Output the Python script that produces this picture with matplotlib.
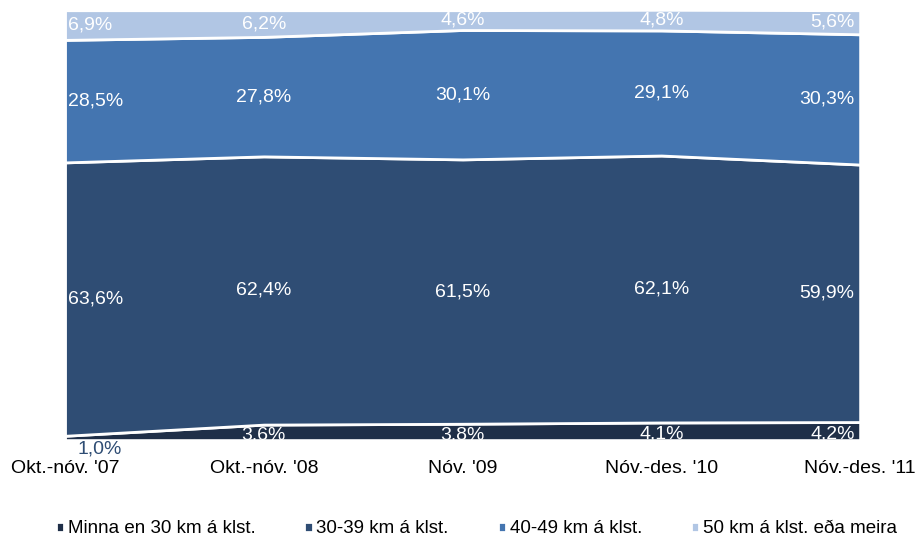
import matplotlib
matplotlib.use("Agg")
import matplotlib.pyplot as plt
import numpy as np

categories = ["Okt.-nóv. '07", "Okt.-nóv. '08", "Nóv. '09", "Nóv.-des. '10", "Nóv.-des. '11"]
series_names = ["Minna en 30 km á klst.", "30-39 km á klst.", "40-49 km á klst.", "50 km á klst. eða meira"]
s_lt30 = [1.0, 3.6, 3.8, 4.1, 4.2]
s_30_39 = [63.6, 62.4, 61.5, 62.1, 59.9]
s_40_49 = [28.5, 27.8, 30.1, 29.1, 30.3]
s_50p = [6.9, 6.2, 4.6, 4.8, 5.6]
colors = ["#1f2f48", "#2f4d74", "#4475b0", "#b1c6e4"]

plt.rcParams['font.family'] = ['Liberation Sans', 'DejaVu Sans']

fig = plt.figure(figsize=(9.16, 5.38), dpi=100)
ax = fig.add_axes([0.071, 0.182, 0.868, 0.799])
x = np.arange(len(categories))
data = [s_lt30, s_30_39, s_40_49, s_50p]
ax.stackplot(x, *data, colors=colors, edgecolor="white", linewidth=2, labels=series_names)
ax.set_xlim(0, len(categories) - 1)
ax.set_ylim(0, 100)
for sp in ax.spines.values():
    sp.set_visible(False)
ax.set_yticks([])
ax.set_xticks(x)
ax.set_xticklabels(categories, fontsize=14)
ax.tick_params(axis='x', length=0, pad=14)

cum = np.zeros(len(categories))
for si, vals in enumerate(data):
    for i, v in enumerate(vals):
        ymid = cum[i] + v / 2
        if i == 0:
            ha = 'left'
        elif i == len(categories) - 1:
            ha = 'right'
        else:
            ha = 'center'
        txt = f"{v:.1f}%".replace('.', ',')
        if si == 0 and v < 2:
            ax.annotate(txt, (i, 0), xytext=(9, 0), textcoords='offset points',
                        ha='left', va='top', fontsize=14, color="#2f4d74",
                        annotation_clip=False)
            continue
        off = 0
        if ha == 'left':
            off = 2
        elif ha == 'right':
            off = -4
        dy = -2 if si == 0 else 0
        ax.annotate(txt, (i, ymid), xytext=(off, dy), textcoords='offset points',
                    ha=ha, va='center', fontsize=14, color="white")
    cum = cum + np.array(vals)

handles, labels = ax.get_legend_handles_labels()
leg = fig.legend(handles, labels, loc='lower center', bbox_to_anchor=(0.52, -0.03), ncol=4,
                 frameon=False, fontsize=13.5, handlelength=0.45, handleheight=0.45,
                 handletextpad=0.2, columnspacing=2.6)
fig.savefig("out.png", dpi=100)
